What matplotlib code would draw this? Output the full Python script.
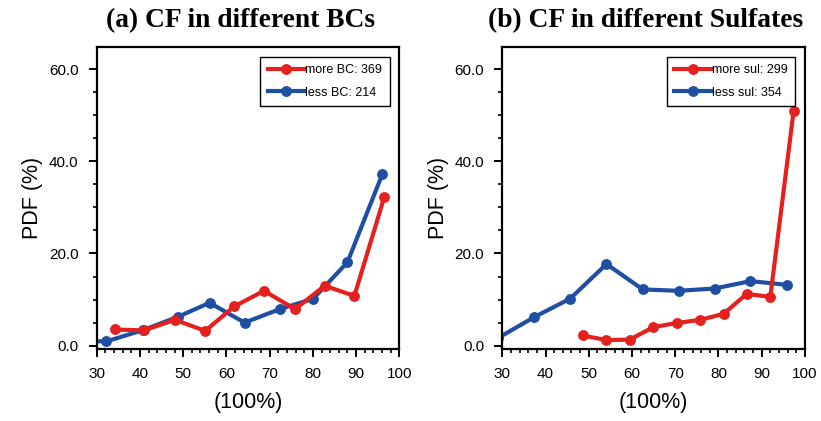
import numpy as np
import matplotlib
matplotlib.use('Agg')
import matplotlib.pyplot as plt
from matplotlib.ticker import MultipleLocator, FormatStrFormatter

# cloud fraction bins (%) and PDF values (%) for each group
bc_more_x = [34.2, 40.9, 48.1, 55.1, 61.8, 68.7, 75.9, 82.7, 89.6, 96.5]
bc_more_y = [3.5, 3.3, 5.6, 3.2, 8.5, 11.9, 7.9, 13.0, 10.8, 32.2]
bc_less_x = [24.2, 32.2, 40.8, 48.9, 56.1, 64.2, 72.3, 80.1, 88.0, 96.1]
bc_less_y = [1.1, 0.9, 3.4, 6.3, 9.3, 5.0, 7.9, 10.2, 18.1, 37.3]

sul_more_x = [48.6, 54.1, 59.5, 64.9, 70.3, 75.8, 81.2, 86.5, 92.0, 97.4]
sul_more_y = [2.2, 1.2, 1.3, 4.0, 4.9, 5.6, 6.9, 11.2, 10.6, 51.0]
sul_less_x = [29.1, 37.4, 45.7, 54.1, 62.5, 70.8, 79.1, 87.4, 95.8]
sul_less_y = [1.7, 6.2, 10.2, 17.7, 12.2, 11.9, 12.4, 14.0, 13.2]

titles = ['(a) CF in different BCs', '(b) CF in different Sulfates']
labels = [('more BC: 369', 'less BC: 214'), ('more sul: 299', 'less sul: 354')]

red = '#e4211e'
blue = '#1f4fa2'

plt.rcParams['font.family'] = ['Liberation Sans', 'DejaVu Sans']

fig = plt.figure(figsize=(8.21, 4.21), dpi=100)
axes = [fig.add_axes([0.1178, 0.1703, 0.3686, 0.7188]),
        fig.add_axes([0.6118, 0.1703, 0.3686, 0.7188])]

series = [(bc_more_x, bc_more_y, bc_less_x, bc_less_y),
          (sul_more_x, sul_more_y, sul_less_x, sul_less_y)]

for ax, (mx, my, lx, ly), title, (lab_m, lab_l) in zip(axes, series, titles, labels):
    ax.plot(mx, my, '-o', color=red, lw=3.0, ms=6.8, label=lab_m, zorder=3)
    ax.plot(lx, ly, '-o', color=blue, lw=3.0, ms=6.8, label=lab_l, zorder=2)
    ax.set_xlim(30, 100)
    ax.set_ylim(-0.8, 64.9)
    ax.xaxis.set_major_locator(MultipleLocator(10))
    ax.xaxis.set_minor_locator(MultipleLocator(2))
    ax.yaxis.set_major_locator(MultipleLocator(20))
    ax.yaxis.set_minor_locator(MultipleLocator(5))
    ax.yaxis.set_major_formatter(FormatStrFormatter('%.1f'))
    ax.tick_params(which='major', direction='out', length=6, width=1.4,
                   labelsize=11, pad=7)
    ax.tick_params(which='minor', direction='out', length=3, width=1.2)
    ax.tick_params(top=False, right=False)
    for sp in ax.spines.values():
        sp.set_linewidth(1.6)
    ax.set_xlabel('(100%)', fontsize=15.5, labelpad=8)
    ax.set_ylabel('PDF (%)', fontsize=15.5, labelpad=4)
    ax.set_title(title, fontsize=19.8, fontweight='bold', x=0.475,
                 family=['Liberation Serif', 'DejaVu Serif'], pad=14)
    leg = ax.legend(loc='upper right', bbox_to_anchor=(0.968, 0.967),
                    borderaxespad=0, fontsize=9, handlelength=2.9,
                    handletextpad=0.1, borderpad=0.6, labelspacing=0.85,
                    fancybox=False, framealpha=1, edgecolor='black')
    leg.get_frame().set_linewidth(1.0)

fig.savefig('out.png', dpi=100)
